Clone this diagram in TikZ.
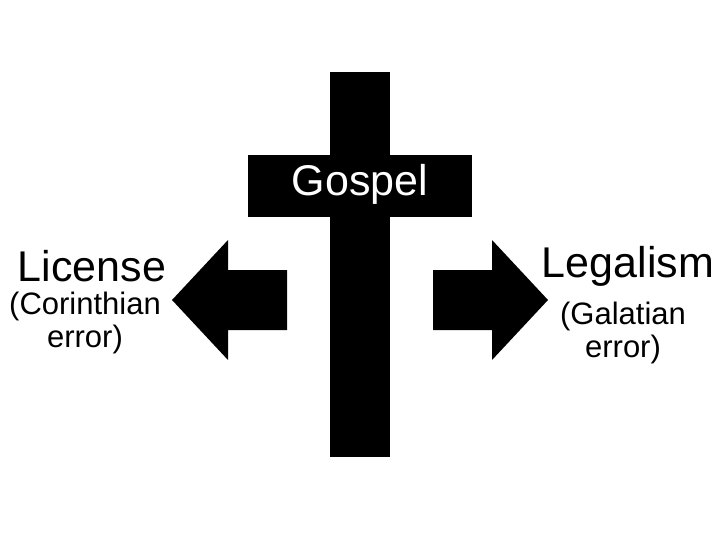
\documentclass[tikz,border=0pt]{standalone}
\usepackage{fontspec}
\setmainfont{Liberation Sans}
\begin{document}
\begin{tikzpicture}[x=1pt,y=-1pt,
  solidfill/.style={fill=black,draw=none},
  big/.style={font=\fontsize{43}{48}\selectfont,inner sep=0pt},
  small/.style={font=\fontsize{31}{33}\selectfont,align=center,inner sep=0pt}]
\useasboundingbox (0,0) rectangle (720,540);
\fill[solidfill] (330,72) rectangle (390,457);
\fill[solidfill] (248,155) rectangle (472,217);
\node[text=white,font=\fontsize{43}{48}\selectfont,inner sep=0pt] (g) at (360,184) {Gospel};
\fill[solidfill] (287,270) -- (228,270) -- (228,240) -- (172,300) -- (228,360) -- (228,330) -- (287,330) -- cycle;
\fill[solidfill] (433,270) -- (492,270) -- (492,240) -- (548,300) -- (492,360) -- (492,330) -- (433,330) -- cycle;
\node[big] (lic) at (92,266) {License};
\node[small] (lice) at (85,323) {(Corinthian\\error)};
\node[big] (leg) at (628,266) {Legalism};
\node[small] (lege) at (623,333) {(Galatian\\error)};
\end{tikzpicture}
\end{document}
